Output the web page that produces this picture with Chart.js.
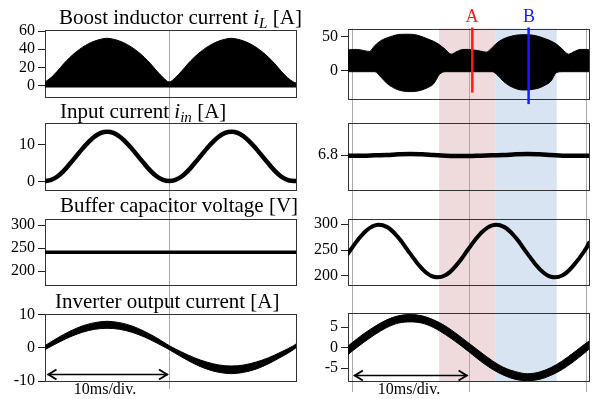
<!DOCTYPE html>
<html>
<head>
<meta charset="utf-8">
<script src="https://cdn.jsdelivr.net/npm/chart.js@4.4.1/dist/chart.umd.min.js"></script>
<style>
body { margin: 0; background: #fff; }
#wrap { position: relative; width: 610px; height: 399px; font-family: "Liberation Serif", "Times New Roman", serif; color: #000; overflow: hidden; }
#wrap canvas { position: absolute; left: 0; top: 0; }
.t { position: absolute; white-space: nowrap; font-size: 21px; line-height: 21px; }
.t sub { font-size: 0.72em; vertical-align: -0.28em; line-height: 0; }
.mk { position: absolute; font-size: 18px; line-height: 18px; width: 30px; text-align: center; }
.div { position: absolute; font-size: 16px; line-height: 16px; width: 100px; text-align: center; }
</style>
</head>
<body>
<div id="wrap">
	<canvas id="l1" width="610" height="399"></canvas>
	<canvas id="l2" width="610" height="399"></canvas>
	<canvas id="l3" width="610" height="399"></canvas>
	<canvas id="l4" width="610" height="399"></canvas>
	<canvas id="r1" width="610" height="399"></canvas>
	<canvas id="r2" width="610" height="399"></canvas>
	<canvas id="r3" width="610" height="399"></canvas>
	<canvas id="r4" width="610" height="399"></canvas>

	<div class="t" style="left:59px;top:7px">Boost inductor current <i>i<sub>L</sub></i> [A]</div>
	<div class="t" style="left:60px;top:101px">Input current <i>i<sub>in</sub></i> [A]</div>
	<div class="t" style="left:60px;top:195px">Buffer capacitor voltage [V]</div>
	<div class="t" style="left:55px;top:291px">Inverter output current [A]</div>
	<div class="mk" style="left:457px;top:7px;color:#ff1a1a">A</div>
	<div class="mk" style="left:514px;top:7px;color:#1a1aff">B</div>
	<div class="div" style="left:55px;top:381px">10ms/div.</div>
	<div class="div" style="left:359px;top:381px">10ms/div.</div>
</div>
<script>
// time axes [ms]
const leftT = [0, 0.5, 1, 1.5, 2, 2.5, 3, 3.5, 4, 4.5, 5, 5.5, 6, 6.5, 7, 7.5, 8, 8.5, 9, 9.5, 10,
	10.5, 11, 11.5, 12, 12.5, 13, 13.5, 14, 14.5, 15, 15.5, 16, 16.5, 17, 17.5, 18, 18.5, 19, 19.5, 20, 20.2]
const leftT1 = [0, 1, 2, 3, 4, 5, 6, 7, 8, 9, 10, 11, 12, 13, 14, 15, 16, 17, 18, 19, 20, 20.2]
const rightT = [-0.3, 0, 0.5, 1, 1.5, 2, 2.5, 3, 3.5, 4, 4.5, 5, 5.5, 6, 6.5, 7, 7.5, 8, 8.5, 9, 9.5, 10,
	10.5, 11, 11.5, 12, 12.5, 13, 13.5, 14, 14.5, 15, 15.5, 16, 16.5, 17, 17.5, 18, 18.5, 19, 19.5, 20, 20.25]
const rightT1 = [-0.3, 0, 1, 2, 3, 4, 5, 6, 7, 8, 9, 10, 11, 12, 13, 14, 15, 16, 17, 18, 19, 20, 20.25]

// left column
const boostLeftTop = [4, 9, 16, 24, 31, 37, 42, 46, 49, 51, 52, 51, 49, 46, 42, 37, 31, 24, 16, 9, 4,
	9, 16, 24, 31, 37, 42, 46, 49, 51, 52, 51, 49, 46, 42, 37, 31, 24, 16, 9, 4, 3]
const boostFloor = -2
const inLeft = [0.2, 0.5, 1.4, 2.9, 4.8, 6.8, 8.8, 10.6, 12.1, 13.1, 13.4, 13.1, 12.1, 10.6, 8.8, 6.8, 4.8, 2.9, 1.4, 0.5, 0.2,
	0.5, 1.4, 2.9, 4.8, 6.8, 8.8, 10.6, 12.1, 13.1, 13.4, 13.1, 12.1, 10.6, 8.8, 6.8, 4.8, 2.9, 1.4, 0.5, 0.2, 0.2]
const bufLeftT = [0, 20.2]
const bufLeft = [241, 241]
const invLeftHi = [0.6, 2.9, 4.9, 6.5, 7.5, 7.9, 7.5, 6.5, 4.9, 2.9, 0.6, -1.3, -3.0, -4.3, -5.2, -5.5, -5.2, -4.3, -3.0, -1.3, 0.6, 1.1]
const invLeftLo = [-0.6, 1.4, 3.2, 4.6, 5.5, 5.8, 5.5, 4.6, 3.2, 1.4, -0.6, -2.8, -4.8, -6.4, -7.4, -7.8, -7.4, -6.4, -4.8, -2.8, -0.6, 0]

// right column
const boostRightHi = [30, 31, 31, 29.5, 28, 37, 44, 48, 51, 53, 53.5, 53.5, 52.5, 50, 46.5, 43, 38, 31, 24, 28, 31, 31,
	30, 28.5, 27, 34, 42, 47, 50, 52, 52.8, 52.8, 52, 50, 47, 43.5, 38.5, 31, 24, 28, 31, 31, 30.5]
const boostRightLo = [-2, -2, -2, -2, -2, -2, -10, -19, -25, -29, -31, -31.5, -31, -29, -25.5, -20, -6, -2, -2, -2, -2, -2,
	-2, -2, -2, -2, -8, -17, -23, -27, -29, -29, -28, -26, -22, -16, -3, -2, -2, -2, -2, -2, -2]
const inRight = [6.79, 6.79, 6.79, 6.795, 6.8, 6.81, 6.815, 6.81, 6.8, 6.79, 6.785, 6.785, 6.79, 6.795, 6.8, 6.81, 6.815, 6.81, 6.8, 6.79, 6.79, 6.79, 6.79]
const bufRight = [243, 253, 282, 298, 295, 274, 243, 214, 198, 201, 222, 253, 282, 298, 295, 274, 243, 214, 198, 201, 222, 253, 264]
const invRightHi = [0.4, 1.1, 3.3, 5.2, 6.8, 7.8, 8.1, 7.8, 6.8, 5.3, 3.3, 1.1, -1.1, -3.2, -4.9, -5.9, -6.4, -6.0, -4.9, -3.2, -1.1, 1.1, 1.6]
const invRightLo = [-1.7, -1.0, 1.2, 3.2, 4.9, 6.0, 6.3, 6.0, 4.9, 3.2, 1.2, -1.0, -3.3, -5.3, -6.8, -7.8, -8.1, -7.8, -6.8, -5.3, -3.3, -1.0, -0.4]

// annotations (time / value units)
const leftGridT = [10]
const rightGridT = [0, 10, 20]
const bandEdges = [7.47, 12.3, 17.5]
const markerT = [10.3, 15.1]
const markerLow = [-33, -50]
const arrowSpan = [0.2, 9.9]
const arrowLeftY = -7.9
const arrowRightY = -6.6

// tick labels
const ticksL1 = [0, 20, 40, 60]
const ticksL2 = [0, 10]
const ticksL3 = [200, 250, 300]
const ticksL4 = [-10, 0, 10]
const ticksR1 = [0, 50]
const ticksR2 = [6.8]
const ticksR3 = [200, 250, 300]
const ticksR4 = [-5, 0, 5]

const AXW = 40
const xy = (ts, vs) => ts.map((t, i) => ({ x: t, y: vs[i] }))

const boxPlugin = {
	id: 'box',
	beforeDatasetsDraw(chart) {
		const a = chart.chartArea, ctx = chart.ctx
		ctx.save()
		ctx.strokeStyle = '#333'
		ctx.lineWidth = 1
		ctx.strokeRect(Math.round(a.left) + 0.5, Math.round(a.top) + 0.5, Math.round(a.right - a.left), Math.round(a.bottom - a.top))
		ctx.restore()
	}
}

function vline(ctx, x, y0, y1, color, w) {
	ctx.save()
	ctx.strokeStyle = color
	ctx.lineWidth = w
	ctx.beginPath()
	ctx.moveTo(x, y0)
	ctx.lineTo(x, y1)
	ctx.stroke()
	ctx.restore()
}

const leftGuides = {
	id: 'leftGuides',
	beforeDatasetsDraw(chart) {
		const x = chart.scales.x
		leftGridT.forEach(t => vline(chart.ctx, Math.round(x.getPixelForValue(t)) + 0.5, chart.chartArea.top, 389, '#aaa', 1))
	}
}

const rightBack = {
	id: 'rightBack',
	beforeDatasetsDraw(chart) {
		const x = chart.scales.x, ctx = chart.ctx, top = chart.chartArea.top
		const colors = ['#efdbdb', '#d9e4f3']
		ctx.save()
		for (let i = 0; i < bandEdges.length - 1; i++) {
			const x0 = x.getPixelForValue(bandEdges[i]), x1 = x.getPixelForValue(bandEdges[i + 1])
			ctx.fillStyle = colors[i]
			ctx.fillRect(x0, top, x1 - x0, 381.5 - top)
		}
		ctx.restore()
		rightGridT.forEach(t => vline(ctx, Math.round(x.getPixelForValue(t)) + 0.5, top, 392, '#aaa', 1))
	}
}

const rightMarkers = {
	id: 'rightMarkers',
	afterDatasetsDraw(chart) {
		const x = chart.scales.x, y = chart.scales.y
		const colors = ['#ff1a1a', '#1a1aff']
		markerT.forEach((t, i) => vline(chart.ctx, x.getPixelForValue(t), chart.chartArea.top - 1, y.getPixelForValue(markerLow[i]), colors[i], 2.5))
	}
}

const arrowPlugin = (yv) => ({
	id: 'scaleArrow',
	afterDatasetsDraw(chart) {
		const x = chart.scales.x, ctx = chart.ctx
		const y = Math.round(chart.scales.y.getPixelForValue(yv)) + 0.5
		const x0 = x.getPixelForValue(arrowSpan[0]), x1 = x.getPixelForValue(arrowSpan[1])
		ctx.save()
		ctx.strokeStyle = '#000'
		ctx.lineWidth = 1.5
		ctx.beginPath()
		ctx.moveTo(x0, y)
		ctx.lineTo(x1, y)
		ctx.stroke()
		ctx.lineWidth = 2
		ctx.beginPath()
		ctx.moveTo(x0 + 9, y - 5); ctx.lineTo(x0 + 1, y); ctx.lineTo(x0 + 9, y + 5)
		ctx.moveTo(x1 - 9, y - 5); ctx.lineTo(x1 - 1, y); ctx.lineTo(x1 - 9, y + 5)
		ctx.stroke()
		ctx.restore()
	}
})

function panel(id, box, xr, yr, ticks, datasets, extra) {
	return new Chart(document.getElementById(id), {
		type: 'line',
		data: { datasets },
		options: {
			responsive: false,
			animation: false,
			devicePixelRatio: 1,
			layout: { padding: { left: box[0] - AXW, top: box[1], right: 610 - box[2], bottom: 399 - box[3] } },
			plugins: { legend: { display: false }, tooltip: { enabled: false } },
			elements: {
				point: { radius: 0 },
				line: { cubicInterpolationMode: 'monotone', borderColor: '#000', borderCapStyle: 'round' }
			},
			scales: {
				x: { type: 'linear', display: false, min: xr[0], max: xr[1] },
				y: {
					min: yr[0],
					max: yr[1],
					afterFit: s => { s.width = AXW },
					afterBuildTicks: s => { s.ticks = ticks.map(v => ({ value: v })) },
					border: { display: false },
					grid: { drawOnChartArea: false, color: '#222', tickLength: 7 },
					ticks: {
						color: '#000',
						padding: 3,
						autoSkip: false,
						font: { family: 'Liberation Serif', size: 16 },
						callback: v => String(v)
					}
				}
			}
		},
		plugins: [...(extra || []), boxPlugin]
	})
}

const LX = [0, 20.2]
const RX = [-0.3, 20.25]

panel('l1', [45, 30, 296, 96.7], LX, [-12.1, 61.1], ticksL1, [
	{ data: xy(leftT, boostLeftTop), borderWidth: 1, backgroundColor: '#000', fill: { value: boostFloor } }
], [leftGuides])

panel('l2', [45, 122.7, 296, 190], LX, [-2.2, 15.8], ticksL2, [
	{ data: xy(leftT, inLeft), borderWidth: 4.5, fill: false, cubicInterpolationMode: 'default', tension: 0.4 }
])

panel('l3', [45, 219.3, 296, 285], LX, [169.6, 312.4], ticksL3, [
	{ data: xy(bufLeftT, bufLeft), borderWidth: 3.5, fill: false }
])

panel('l4', [45, 314.3, 296, 381], LX, [-10, 10], ticksL4, [
	{ data: xy(leftT1, invLeftHi), borderWidth: 1, fill: false },
	{ data: xy(leftT1, invLeftLo), borderWidth: 1, backgroundColor: '#000', fill: '-1' }
], [arrowPlugin(arrowLeftY)])

panel('r1', [348, 28.5, 589, 98.3], RX, [-41.4, 62], ticksR1, [
	{ data: xy(rightT, boostRightHi), borderWidth: 1, fill: false },
	{ data: xy(rightT, boostRightLo), borderWidth: 1, backgroundColor: '#000', fill: '-1' }
], [rightBack, rightMarkers])

panel('r2', [348, 122.7, 589, 190], RX, [6.28, 7.28], ticksR2, [
	{ data: xy(rightT1, inRight), borderWidth: 4.5, fill: false, cubicInterpolationMode: 'default', tension: 0.4 }
])

panel('r3', [348, 219.3, 589, 285], RX, [182, 309.7], ticksR3, [
	{ data: xy(rightT1, bufRight), borderWidth: 4, fill: false, cubicInterpolationMode: 'default', tension: 0.4 }
])

panel('r4', [348, 313.3, 589, 381.5], RX, [-8.3, 8.4], ticksR4, [
	{ data: xy(rightT1, invRightHi), borderWidth: 1, fill: false },
	{ data: xy(rightT1, invRightLo), borderWidth: 1, backgroundColor: '#000', fill: '-1' }
], [arrowPlugin(arrowRightY)])
</script>
</body>
</html>
